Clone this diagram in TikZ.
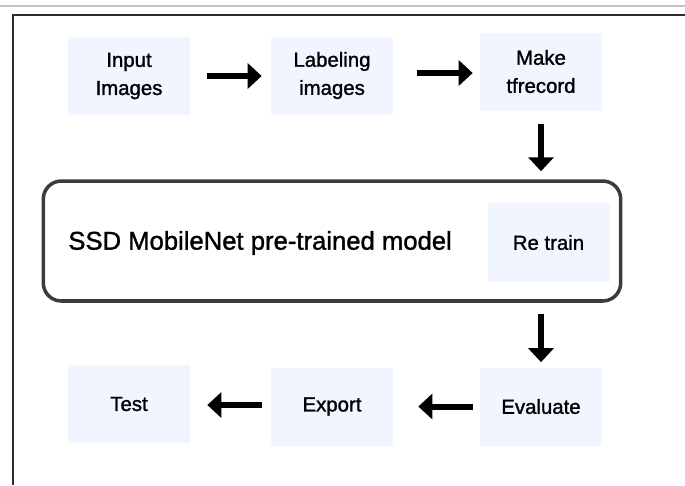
\documentclass[tikz,border=0pt]{standalone}
\usepackage{fontspec}
\setmainfont[FakeBold=1.3]{Liberation Sans}
\usepackage{xcolor}
\usepackage{tikz}
\usetikzlibrary{arrows.meta,positioning,calc}
\definecolor{stepfill}{RGB}{240,245,255}
\definecolor{framedark}{RGB}{45,45,45}
\definecolor{framegray}{RGB}{195,195,195}
\definecolor{modeledge}{RGB}{60,60,60}

\begin{document}
\begin{tikzpicture}[x=0.02cm,y=-0.02cm,>={Triangle[length=2.8mm,width=5mm]},
  every node/.style={font=\fontsize{11.6}{16}\selectfont},
  stepbox/.style={fill=stepfill,minimum width=2.44cm,minimum height=1.56cm,align=center,inner sep=0pt},
  flow/.style={->,line width=3.4pt,black}]
\useasboundingbox (0,0) rectangle (685,485);
\draw[framegray,line width=0.9pt] (0,6) -- (685,6);
\draw[framedark,line width=0.9pt] (13,485) -- (13,15) -- (685,15);
\node[stepbox] (input) at (129,76) {Input\\Images};
\node[stepbox] (label) at (332,75.5) {Labeling\\images};
\node[stepbox] (make) at (541,71.5) {Make\\tfrecord};
\node[draw=modeledge,line width=2pt,rounded corners=0.36cm,minimum width=11.55cm,minimum height=2.4cm] (model) at (332,241) {};
\node[anchor=west,inner sep=0pt,font=\fontsize{14.6}{17}\selectfont] (ssd) at (68,243) {SSD MobileNet pre-trained model};
\node[stepbox,minimum height=1.58cm] (retrain) at (548.5,242.5) {Re train};
\node[stepbox] (eval) at (541,406.5) {Evaluate};
\node[stepbox] (export) at (332,406.5) {Export};
\node[stepbox] (test) at (129,404) {Test};
\draw[flow,shorten <=0.34cm,shorten >=0.18cm] (input.east) -- (input.east -| label.west);
\draw[flow,shorten <=0.48cm,shorten >=0.14cm] (label.east |- 0,73) -- (make.west |- 0,73);
\draw[flow,shorten <=0.26cm,shorten >=0.16cm] (make.south) -- (make.south |- model.north);
\draw[flow,shorten <=0.22cm,shorten >=0.1cm] (eval.north |- model.south) -- (eval.north);
\draw[flow,shorten <=0.14cm,shorten >=0.5cm] (eval.west) -- (eval.west -| export.east);
\draw[flow,shorten <=0.18cm,shorten >=0.34cm] (export.west |- 0,405) -- (test.east |- 0,405);
\end{tikzpicture}
\end{document}
